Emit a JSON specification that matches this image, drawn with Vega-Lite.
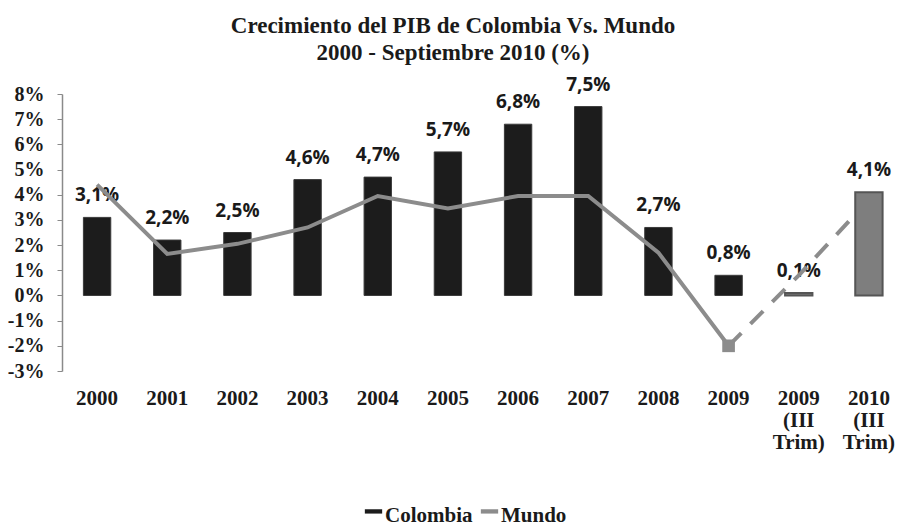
{
  "$schema": "https://vega.github.io/schema/vega-lite/v6.json",
  "autosize": {"type": "none"},
  "width": 842,
  "height": 277,
  "padding": {"left": 62, "top": 94, "right": 0, "bottom": 156},
  "background": "white",
  "title": {
    "text": ["Crecimiento del PIB de Colombia Vs. Mundo", "2000 - Septiembre 2010 (%)"],
    "font": "Liberation Serif",
    "fontSize": 23,
    "fontWeight": "bold",
    "color": "#1a1a1a",
    "lineHeight": 27,
    "anchor": "middle",
    "dx": -30,
    "offset": 11
  },
  "data": {
    "values": [
      {"periodo": "2000", "colombia": 3.1, "mundo": 4.4, "tipo": "anual"},
      {"periodo": "2001", "colombia": 2.2, "mundo": 1.65, "tipo": "anual"},
      {"periodo": "2002", "colombia": 2.5, "mundo": 2.05, "tipo": "anual"},
      {"periodo": "2003", "colombia": 4.6, "mundo": 2.7, "tipo": "anual"},
      {"periodo": "2004", "colombia": 4.7, "mundo": 3.95, "tipo": "anual"},
      {"periodo": "2005", "colombia": 5.7, "mundo": 3.45, "tipo": "anual"},
      {"periodo": "2006", "colombia": 6.8, "mundo": 3.95, "tipo": "anual"},
      {"periodo": "2007", "colombia": 7.5, "mundo": 3.95, "tipo": "anual"},
      {"periodo": "2008", "colombia": 2.7, "mundo": 1.7, "tipo": "anual"},
      {"periodo": "2009", "colombia": 0.8, "mundo": -2.0, "tipo": "anual"},
      {"periodo": "2009 (III Trim)", "colombia": 0.1, "mundo": 0.8, "tipo": "trimestral"},
      {"periodo": "2010 (III Trim)", "colombia": 4.1, "mundo": 3.8, "tipo": "trimestral"}
    ]
  },
  "transform": [
    {"calculate": "replace(format(datum.colombia, '.1f'), '.', ',') + '%'", "as": "etiqueta"}
  ],
  "encoding": {
    "x": {
      "field": "periodo",
      "type": "nominal",
      "sort": null,
      "title": null,
      "scale": {"paddingInner": 0.61, "paddingOuter": 0.305},
      "axis": {
        "orient": "bottom",
        "domain": false,
        "ticks": false,
        "labelAngle": 0,
        "labelFont": "Liberation Serif",
        "labelFontSize": 21,
        "labelFontWeight": "bold",
        "labelColor": "#1a1a1a",
        "labelPadding": 16,
        "labelLineHeight": 22,
        "labelBaseline": "top",
        "labelOverlap": false,
        "labelExpr": "split(datum.label, ' ')"
      }
    },
    "y": {
      "field": "colombia",
      "type": "quantitative",
      "title": null,
      "scale": {"domain": [-3, 8], "nice": false, "zero": false},
      "axis": {
        "values": [-3, -2, -1, 0, 1, 2, 3, 4, 5, 6, 7, 8],
        "labelExpr": "datum.value + '%'",
        "labelOverlap": false,
        "grid": false,
        "domainColor": "#8a8a8a",
        "domainWidth": 1.5,
        "tickColor": "#8a8a8a",
        "tickSize": 5,
        "labelPadding": 13,
        "labelFont": "Liberation Serif",
        "labelFontSize": 20,
        "labelFontWeight": "bold",
        "labelColor": "#1a1a1a"
      }
    }
  },
  "layer": [
    {
      "transform": [{"filter": "datum.tipo == 'anual'"}],
      "mark": {"type": "bar", "stroke": "#3a3a3a", "strokeWidth": 1},
      "encoding": {
        "color": {
          "datum": "Colombia",
          "type": "nominal",
          "scale": {"domain": ["Colombia", "Mundo"], "range": ["#1c1c1c", "#8c8c8c"]},
          "legend": {
            "orient": "none",
            "legendX": 301,
            "legendY": 411,
            "direction": "horizontal",
            "title": null,
            "symbolType": "M-1,-0.75H1V-0.25H-1Z",
            "symbolSize": 300,
            "symbolStrokeWidth": 0,
            "labelFont": "Liberation Serif",
            "labelFontSize": 21,
            "labelFontWeight": "bold",
            "labelColor": "#1a1a1a",
            "labelOffset": 1,
            "columnPadding": 6,
            "encode": {
              "symbols": {
                "update": {
                  "fill": {"scale": "color", "field": "value"},
                  "stroke": {"value": "transparent"},
                  "opacity": {"value": 1}
                }
              }
            }
          }
        }
      }
    },
    {
      "mark": {
        "type": "text",
        "font": "Open Sans",
        "fontSize": 19,
        "fontWeight": "bold",
        "color": "#1a1a1a",
        "baseline": "bottom",
        "dy": -12
      },
      "encoding": {
        "text": {"field": "etiqueta", "type": "nominal"}
      }
    },
    {
      "mark": {"type": "rule", "color": "#8a8a8a", "strokeWidth": 1.5},
      "encoding": {"y": {"datum": 0, "type": "quantitative"}}
    },
    {
      "transform": [{"filter": "datum.tipo == 'anual'"}],
      "mark": {"type": "line", "strokeWidth": 4},
      "encoding": {
        "y": {"field": "mundo", "type": "quantitative"},
        "color": {"datum": "Mundo", "type": "nominal"}
      }
    },
    {
      "transform": [{"filter": "datum.periodo == '2009' || datum.tipo == 'trimestral'"}],
      "mark": {"type": "line", "strokeWidth": 4, "color": "#8c8c8c", "strokeDash": [18, 13]},
      "encoding": {
        "y": {"field": "mundo", "type": "quantitative"}
      }
    },
    {
      "transform": [{"filter": "datum.periodo == '2009'"}],
      "mark": {"type": "point", "shape": "square", "filled": true, "size": 160, "color": "#8c8c8c", "opacity": 1},
      "encoding": {
        "y": {"field": "mundo", "type": "quantitative"}
      }
    },
    {
      "transform": [{"filter": "datum.tipo == 'trimestral'"}],
      "mark": {"type": "bar", "color": "#7e7e7e", "stroke": "#555555", "strokeWidth": 2}
    }
  ],
  "config": {
    "view": {"stroke": null},
    "axis": {"labelOverlap": false}
  }
}
